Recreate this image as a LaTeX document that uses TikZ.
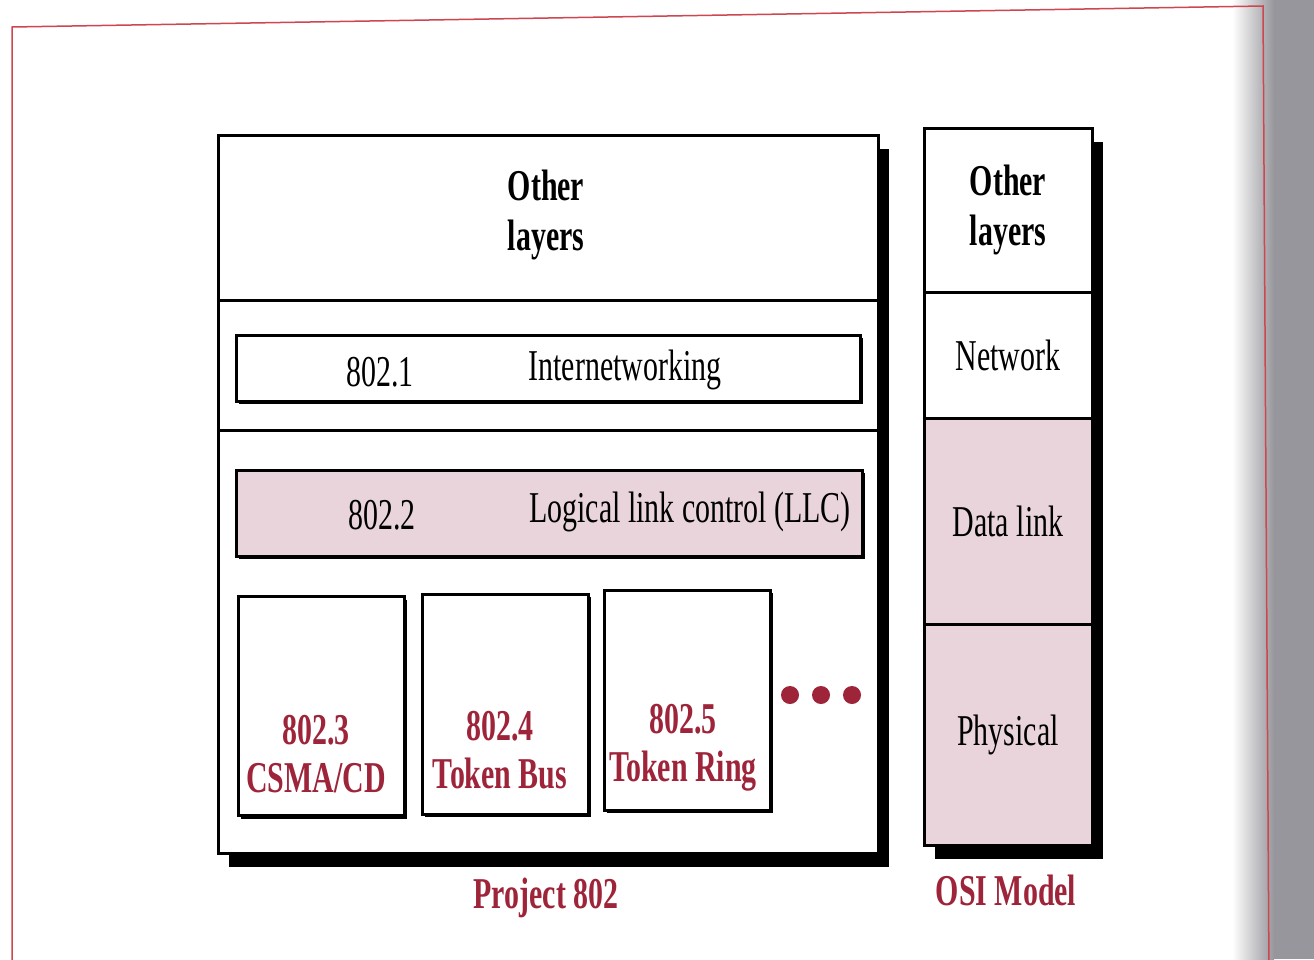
\documentclass[tikz,border=0pt]{standalone}
\usepackage{fontspec}
\setmainfont{Liberation Serif}[FakeStretch=0.68]
\usetikzlibrary{positioning,shadows}

\definecolor{llcpink}{RGB}{232,212,218}
\definecolor{tagred}{RGB}{158,36,58}
\definecolor{framered}{RGB}{205,70,80}
\definecolor{scangray}{RGB}{150,150,156}

\begin{document}
\begin{tikzpicture}[x=1pt, y=-1pt, node distance=0pt,
        box/.style = {draw, line width=3pt, fill=white, inner sep=0pt, outer sep=0pt},
        heavy/.style = {drop shadow={shadow xshift=11pt, shadow yshift=-14pt, fill=black, opacity=1}},
        light/.style = {drop shadow={shadow xshift=3pt, shadow yshift=-3pt, fill=black, opacity=1}},
        lbl/.style = {font=\fontsize{44}{50}\selectfont, align=center, inner sep=0pt},
        head/.style = {lbl, font=\fontsize{44}{50}\selectfont\bfseries},
        tag/.style = {lbl, font=\fontsize{44}{48}\selectfont\bfseries, text=tagred},
        dot/.style = {circle, fill=tagred, minimum size=18pt, inner sep=0pt}]
        \useasboundingbox (0,0) rectangle (1314,959);
        \clip (0,0) rectangle (1314,959);

        % page and scan edge
        \fill[white] (0,0) rectangle (1314,959);
        \shade[left color=white, right color=scangray] (1232,0) rectangle (1274,959);
        \fill[scangray] (1274,0) rectangle (1314,959);
        \draw[framered, line width=1.5pt] (12,975) -- (12,27) -- (1263,6) -- (1269,975);

        % Project 802
        \node[box,heavy,minimum width=660pt,minimum height=718pt] (proj) at (548,494) {};
        \coordinate (cut1) at (0,300);
        \coordinate (cut2) at (0,430);
        \draw[line width=3pt] (proj.west |- cut1) -- (proj.east |- cut1);
        \draw[line width=3pt] (proj.west |- cut2) -- (proj.east |- cut2);
        \node[head] (projother) at (546,215) {Other\\layers};

        \node[box,light,minimum width=624pt,minimum height=66pt] (ieee1) at (548,368) {};
        \node[lbl] (ieee1num) at (380,372) {802.1};
        \node[lbl] (ieee1name) at (625,370) {Internetworking};

        \node[box,light,fill=llcpink,minimum width=626pt,minimum height=86pt] (ieee2) at (549,513) {};
        \node[lbl] (ieee2num) at (382,515) {802.2};
        \node[lbl] (ieee2name) at (690,512) {Logical link control (LLC)};

        \node[box,light,minimum width=166pt,minimum height=219pt] (csma) at (321,706) {};
        \node[box,light,minimum width=166pt,minimum height=220pt] (tbus) at (505,704) {};
        \node[box,light,minimum width=166pt,minimum height=220pt] (tring) at (687,700) {};
        \node[tag] (csmatxt) at (316,754) {802.3\\CSMA/CD};
        \node[tag] (tbustxt) at (500,750) {802.4\\Token Bus};
        \node[tag] (tringtxt) at (683,748) {802.5\\Token Ring};

        \foreach \m/\x in {1/790,2/821,3/852}{
            \node[dot] (more\m) at (\x,695) {};
        }

        \node[tag] (projtag) at (546,898) {Project 802};

        % OSI column
        \node[box,heavy,minimum width=168pt,minimum height=717pt] (osi) at (1008,486.5) {};
        \node[box,lbl,minimum width=168pt,minimum height=164pt,anchor=north,font=\fontsize{44}{50}\selectfont\bfseries] (osiother) at (osi.north) {Other\\layers};
        \node[box,lbl,minimum width=168pt,minimum height=126pt] (osinet) [below=of osiother] {Network};
        \node[box,lbl,fill=llcpink,minimum width=168pt,minimum height=206pt] (osidl) [below=of osinet] {Data link};
        \node[box,lbl,fill=llcpink,minimum width=168pt,minimum height=221pt] (osiphy) [below=of osidl] {Physical};

        \node[tag] (ositag) at (1006,890) {OSI Model};
    \end{tikzpicture}
\end{document}
